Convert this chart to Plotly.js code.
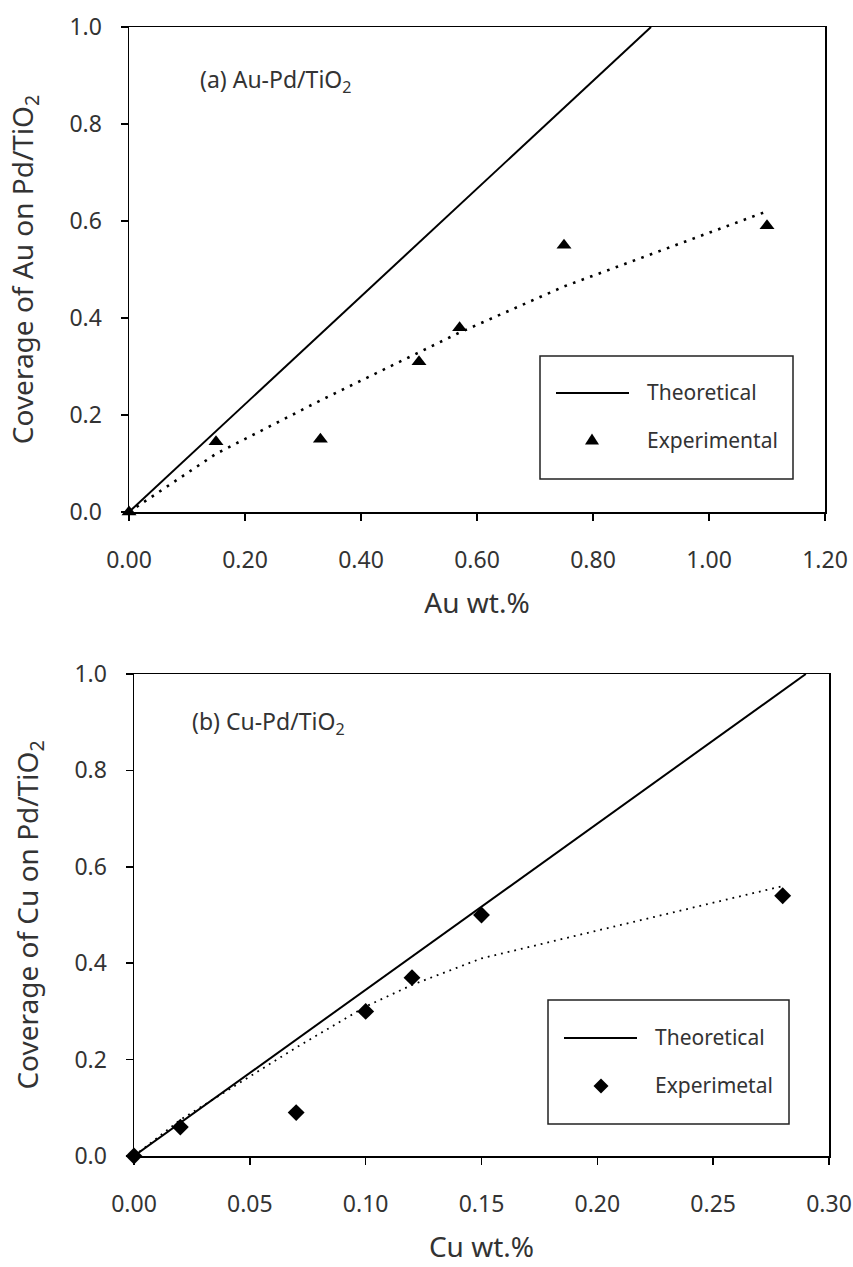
<!DOCTYPE html>
<html>
<head>
<meta charset="utf-8">
<script src="https://cdn.plot.ly/plotly-3.0.1.min.js"></script>
<style>
  html, body { margin: 0; padding: 0; background: #fff; }
  #chart { width: 853px; height: 1267px; }
</style>
</head>
<body>
<div id="chart"></div>
<script>
// (a) Au-Pd/TiO2
const auWt        = [0, 0.15, 0.33, 0.50, 0.57, 0.75, 1.10];
const auCoverage  = [0, 0.145, 0.15, 0.31, 0.38, 0.55, 0.59];
const auFit       = [0, 0.12, 0.23, 0.33, 0.37, 0.465, 0.62];
const auTheoryX   = [0, 0.90];
const auTheoryY   = [0, 1.0];

// (b) Cu-Pd/TiO2
const cuWt        = [0, 0.02, 0.07, 0.10, 0.12, 0.15, 0.28];
const cuCoverage  = [0, 0.06, 0.09, 0.30, 0.37, 0.50, 0.54];
const cuFit       = [0, 0.075, 0.225, 0.31, 0.355, 0.41, 0.56];
const cuTheoryX   = [0, 0.29];
const cuTheoryY   = [0, 1.0];

const xTicksAu = [0, 0.2, 0.4, 0.6, 0.8, 1.0, 1.2];
const xTicksCu = [0, 0.05, 0.10, 0.15, 0.20, 0.25, 0.30];
const yTicks   = [0, 0.2, 0.4, 0.6, 0.8, 1.0];

const W = 853, H = 1267;
const px = v => v / W;          // figure pixel -> paper x
const py = v => 1 - v / H;      // figure pixel -> paper y

const FONT = '"Noto Sans", "DejaVu Sans", sans-serif';
const TXT = '#333';

const traces = [
  { x: auTheoryX, y: auTheoryY, xaxis: 'x', yaxis: 'y', mode: 'lines',
    line: { color: '#000', width: 2 }, hoverinfo: 'skip' },
  { x: auWt, y: auFit, xaxis: 'x', yaxis: 'y', mode: 'lines',
    line: { color: '#000', width: 2.6, dash: '2.6px,6.5px' }, hoverinfo: 'skip' },
  { x: auWt, y: auCoverage, xaxis: 'x', yaxis: 'y', mode: 'markers',
    marker: { symbol: 'triangle-up', size: 13, color: '#000' }, cliponaxis: false },

  { x: cuTheoryX, y: cuTheoryY, xaxis: 'x2', yaxis: 'y2', mode: 'lines',
    line: { color: '#000', width: 2 }, hoverinfo: 'skip' },
  { x: cuWt, y: cuFit, xaxis: 'x2', yaxis: 'y2', mode: 'lines',
    line: { color: '#000', width: 1.8, dash: '1.8px,5px' }, hoverinfo: 'skip' },
  { x: cuWt, y: cuCoverage, xaxis: 'x2', yaxis: 'y2', mode: 'markers',
    marker: { symbol: 'diamond', size: 13, color: '#000' }, cliponaxis: false }
];

function xAxis(domain, range, ticks, fmt, title, anchor) {
  return {
    domain: domain, range: range, anchor: anchor,
    tickmode: 'array', tickvals: ticks, tickformat: fmt,
    ticks: 'outside', ticklen: 7, tickwidth: 1.5, tickcolor: '#000',
    showline: true, linecolor: '#000', linewidth: 1.5, mirror: true,
    showgrid: false, zeroline: false, automargin: false,
    ticklabelstandoff: 20,
    tickfont: { family: FONT, size: 23, color: TXT },
    title: { text: title, standoff: 19, font: { family: FONT, size: 28, color: TXT } }
  };
}
function yAxis(domain, title, anchor) {
  return {
    domain: domain, range: [0, 1], anchor: anchor,
    tickmode: 'array', tickvals: yTicks, tickformat: '.1f',
    ticks: 'outside', ticklen: 7, tickwidth: 1.5, tickcolor: '#000',
    showline: true, linecolor: '#000', linewidth: 1.5, mirror: true,
    showgrid: false, zeroline: false, automargin: false,
    ticklabelstandoff: 14,
    tickfont: { family: FONT, size: 23, color: TXT },
    title: { text: title, standoff: 27, font: { family: FONT, size: 28, color: TXT } }
  };
}

// legend boxes drawn inside each panel
function legendBox(x0, y0, x1, y1, lx0, lx1, ly) {
  return [
    { type: 'rect', xref: 'paper', yref: 'paper',
      x0: px(x0), x1: px(x1), y0: py(y0), y1: py(y1),
      line: { color: '#222', width: 1.5 }, fillcolor: 'rgba(0,0,0,0)' },
    { type: 'line', xref: 'paper', yref: 'paper',
      x0: px(lx0), x1: px(lx1), y0: py(ly), y1: py(ly),
      line: { color: '#000', width: 2 } }
  ];
}

const shapes = [
  ...legendBox(540, 356, 793, 479, 556, 629, 393),
  { type: 'path', xref: 'paper', yref: 'paper',
    xsizemode: 'pixel', ysizemode: 'pixel', xanchor: px(592), yanchor: py(440),
    path: 'M-7,-4.5 L7,-4.5 L0,6.5 Z', fillcolor: '#000', line: { width: 0 } },
  ...legendBox(548, 1000, 789, 1124, 564, 637, 1038),
  { type: 'path', xref: 'paper', yref: 'paper',
    xsizemode: 'pixel', ysizemode: 'pixel', xanchor: px(601), yanchor: py(1086),
    path: 'M0,7.5 L7.5,0 L0,-7.5 L-7.5,0 Z', fillcolor: '#000', line: { width: 0 } }
];

function label(text, x, y, size) {
  return { text: text, xref: 'paper', yref: 'paper', x: px(x), y: py(y),
           xanchor: 'left', yanchor: 'middle', showarrow: false,
           font: { family: FONT, size: size, color: TXT } };
}

const annotations = [
  label('(a) Au-Pd/TiO<sub>2</sub>', 198, 80, 23),
  label('(b) Cu-Pd/TiO<sub>2</sub>', 190, 722, 23),
  label('Theoretical', 645, 392, 21),
  label('Experimental', 645, 440, 21),
  label('Theoretical', 653, 1037, 21),
  label('Experimetal', 653, 1085, 21)
];

const layout = {
  width: W, height: H,
  margin: { l: 0, r: 0, t: 0, b: 0 },
  paper_bgcolor: '#fff', plot_bgcolor: '#fff',
  showlegend: false,
  xaxis:  xAxis([px(129), px(825)], [0, 1.2], xTicksAu, '.2f', 'Au wt.%', 'y'),
  yaxis:  yAxis([py(512), py(27)], 'Coverage of Au on Pd/TiO<sub>2</sub>', 'x'),
  xaxis2: xAxis([px(134), px(829)], [0, 0.30], xTicksCu, '.2f', 'Cu wt.%', 'y2'),
  yaxis2: yAxis([py(1156), py(674)], 'Coverage of Cu on Pd/TiO<sub>2</sub>', 'x2'),
  shapes: shapes,
  annotations: annotations
};

Plotly.newPlot('chart', traces, layout, { displayModeBar: false, staticPlot: true });
</script>
</body>
</html>
